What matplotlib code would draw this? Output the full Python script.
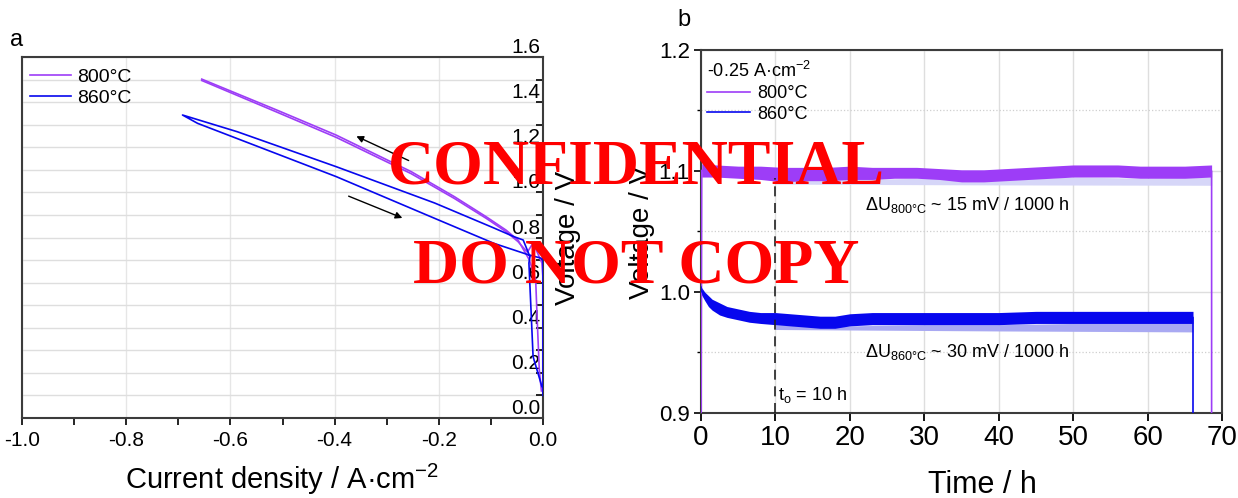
import numpy as np
import matplotlib.pyplot as plt
from matplotlib.ticker import MultipleLocator

plt.rcParams['font.family'] = ['Liberation Sans', 'DejaVu Sans']
plt.rcParams['mathtext.default'] = 'regular'

# colours
c800 = '#9D3DF7'
c860 = '#0707EE'
c800_light = '#D6D6F8'
c860_light = '#A9A9F2'

# ---- panel a: i-V curves (current density A/cm2, voltage V) ----
j800_up = [-0.003, -0.007, -0.011, -0.014, -0.026, -0.048, -0.071, -0.109, -0.170, -0.253, -0.397, -0.511, -0.655]
v800_up = [0.12, 0.21, 0.43, 0.61, 0.70, 0.789, 0.833, 0.892, 0.981, 1.092, 1.254, 1.365, 1.502]
j800_down = [-0.655, -0.511, -0.397, -0.253, -0.170, -0.109, -0.071, -0.048, -0.030, -0.019, -0.002, 0.0, 0.0]
v800_down = [1.496, 1.356, 1.244, 1.083, 0.973, 0.885, 0.826, 0.782, 0.735, 0.776, 0.687, 0.62, 0.12]

j860 = [-0.002, -0.019, -0.027, -0.025, -0.038, -0.056, -0.094, -0.208, -0.397, -0.587, -0.692,
        -0.663, -0.397, -0.208, -0.094, -0.030, -0.003, 0.0, 0.0]
v860 = [0.139, 0.272, 0.687, 0.715, 0.789, 0.804, 0.842, 0.953, 1.114, 1.269, 1.343,
        1.306, 1.070, 0.885, 0.774, 0.725, 0.708, 0.70, 0.10]

# ---- panel b: galvanostatic hold at -0.25 A/cm2 (time h, voltage envelope V) ----
t800 = [0.1, 2, 5, 8, 11, 14, 17, 20, 23, 26, 29, 32, 35, 38, 41, 44, 47, 50, 53, 56, 59, 62, 65, 68.6]
v800_hi = [1.106, 1.105, 1.104, 1.104, 1.103, 1.103, 1.103, 1.104, 1.103, 1.103, 1.103, 1.102,
           1.101, 1.101, 1.102, 1.103, 1.104, 1.105, 1.105, 1.105, 1.104, 1.104, 1.104, 1.105]
v800_lo = [1.095, 1.095, 1.094, 1.093, 1.091, 1.092, 1.092, 1.093, 1.093, 1.094, 1.094, 1.093,
           1.091, 1.091, 1.092, 1.093, 1.094, 1.095, 1.095, 1.095, 1.094, 1.094, 1.094, 1.095]
t800_fit = [10, 20, 30, 40, 50, 60, 68.6]
v800_fit_lo = [1.0892, 1.0889, 1.0887, 1.0885, 1.0884, 1.0883, 1.0882]
v800_fit_hi = [1.092, 1.093, 1.094, 1.093, 1.095, 1.094, 1.095]

t860 = [0.05, 0.5, 1, 1.5, 2.5, 3.5, 5, 6.5, 8, 10, 12, 14, 16, 18, 20, 23, 26, 30, 35, 40,
        45, 50, 55, 60, 63, 66.1]
v860_hi = [1.004, 1.000, 0.997, 0.994, 0.991, 0.988, 0.986, 0.984, 0.983, 0.983, 0.982, 0.981,
           0.980, 0.980, 0.982, 0.983, 0.983, 0.983, 0.983, 0.983, 0.984, 0.984, 0.984, 0.984,
           0.984, 0.984]
v860_lo = [0.998, 0.993, 0.988, 0.985, 0.981, 0.979, 0.977, 0.975, 0.974, 0.973, 0.972, 0.971,
           0.970, 0.970, 0.972, 0.973, 0.973, 0.973, 0.973, 0.973, 0.974, 0.974, 0.974, 0.974,
           0.974, 0.974]
t860_fit = [10, 20, 30, 40, 50, 60, 66.1]
v860_fit_lo = [0.9690, 0.9686, 0.9682, 0.9678, 0.9675, 0.9672, 0.9670]
v860_fit_hi = [0.973, 0.972, 0.973, 0.973, 0.974, 0.974, 0.974]

v_off = 0.85   # value before switching on / after switching off (below the axis)
t_o = 10

fig = plt.figure(figsize=(12.38, 4.98), dpi=100)
ax1 = fig.add_axes([0.0178, 0.1606, 0.4208, 0.7249])
ax2 = fig.add_axes([0.5662, 0.1707, 0.4209, 0.7289])

spine_col = '#3c3c3c'

# ---------------- panel a ----------------
ax1.plot(j800_up, v800_up, color=c800, lw=1.2, label='800°C', zorder=3)
ax1.plot(j800_down, v800_down, color=c800, lw=1.2, zorder=3)
ax1.plot(j860, v860, color=c860, lw=1.2, label='860°C', zorder=3)

ax1.annotate('', xy=(-0.363, 1.254), xytext=(-0.253, 1.136),
             arrowprops=dict(arrowstyle='-|>', color='k', lw=1.0, mutation_scale=10))
ax1.annotate('', xy=(-0.265, 0.882), xytext=(-0.378, 0.988),
             arrowprops=dict(arrowstyle='-|>', color='k', lw=1.0, mutation_scale=10))

ax1.set_xlim(-1.0, 0.0)
ax1.set_ylim(0.0, 1.6)
ax1.xaxis.set_minor_locator(MultipleLocator(0.1))
ax1.set_xticks(np.arange(-1.0, 0.01, 0.2))
ax1.set_xticklabels(['-1.0', '-0.8', '-0.6', '-0.4', '-0.2', '0.0'])
ax1.yaxis.tick_right()
ax1.yaxis.set_label_position('right')
yt = np.arange(0, 1.61, 0.2)
ax1.set_yticks(yt)
ax1.set_yticklabels([f'{v:.1f}' for v in yt], ha='right', va='bottom')
ax1.yaxis.set_minor_locator(MultipleLocator(0.1))
ax1.tick_params(axis='x', which='both', direction='out', length=5, width=1.2,
                labelsize=15, pad=4, colors='k')
ax1.tick_params(axis='y', which='both', direction='in', length=5, width=1.2,
                labelsize=15, pad=-2, left=False, right=True, labelright=True, labelleft=False)
ax1.grid(axis='y', which='both', color='#dedede', lw=1.0)
ax1.grid(axis='x', which='major', color='#e6e6e6', lw=1.0)
ax1.set_axisbelow(True)
for s in ax1.spines.values():
    s.set_color(spine_col)
    s.set_linewidth(1.5)
ax1.set_xlabel('Current density / A·cm$^{-2}$', fontsize=21, labelpad=9)
ax1.set_ylabel('Voltage / V', fontsize=20, labelpad=9)
ax1.legend(loc='upper left', bbox_to_anchor=(0.0, 0.991), frameon=False, fontsize=14,
           handlelength=2.1, handletextpad=0.35, labelspacing=0.2, borderaxespad=0.0)

# ---------------- panel b ----------------
ax2.fill_between(t800_fit, v800_fit_lo, v800_fit_hi, color=c800_light, lw=0, zorder=2)
ax2.fill_between(t860_fit, v860_fit_lo, v860_fit_hi, color=c860_light, lw=0, zorder=2)
ax2.fill_between(t800, v800_lo, v800_hi, color=c800, lw=0, zorder=3)
ax2.fill_between(t860, v860_lo, v860_hi, color=c860, lw=0, zorder=3)

mid800 = [(a + b) / 2 for a, b in zip(v800_lo, v800_hi)]
mid860 = [(a + b) / 2 for a, b in zip(v860_lo, v860_hi)]
ax2.plot([0] + t800 + [t800[-1]], [v_off] + mid800 + [v_off], color=c800, lw=1.2,
         label='800°C', zorder=3)
ax2.plot([0] + t860 + [t860[-1]], [v860_hi[0]] + mid860 + [v_off], color=c860, lw=1.2,
         label='860°C', zorder=3)

ax2.vlines(t_o, 0.9, 1.094, colors='#222222', linestyles=(0, (6, 4)), lw=1.2, zorder=4)
ax2.text(t_o + 0.3, 0.915, 't$_o$ = 10 h', fontsize=13, va='center', ha='left')
ax2.text(22.0, 1.072, 'ΔU$_{800°C}$ ~ 15 mV / 1000 h', fontsize=13, va='center', ha='left')
ax2.text(22.0, 0.950, 'ΔU$_{860°C}$ ~ 30 mV / 1000 h', fontsize=13, va='center', ha='left')

ax2.set_xlim(0, 70)
ax2.set_ylim(0.9, 1.2)
ax2.xaxis.set_major_locator(MultipleLocator(10))
ax2.set_yticks([0.9, 1.0, 1.1, 1.2])
ax2.yaxis.set_minor_locator(MultipleLocator(0.05))
ax2.tick_params(axis='x', which='major', direction='out', length=6, width=1.3, labelsize=20, pad=3)
ax2.tick_params(axis='y', which='major', direction='out', length=5, width=1.2, labelsize=16, pad=3)
ax2.tick_params(axis='y', which='minor', direction='out', length=3, width=1.0)
ax2.grid(which='major', color='#dedede', lw=1.0)
ax2.grid(axis='y', which='minor', color='#cfcfcf', lw=0.9, ls=':')
ax2.set_axisbelow(True)
for s in ax2.spines.values():
    s.set_color(spine_col)
    s.set_linewidth(1.5)
ax2.set_xlabel('Time / h', fontsize=22)
ax2.xaxis.set_label_coords(0.541, -0.157)
ax2.set_ylabel('Voltage / V', fontsize=20, labelpad=3)
ax2.legend(loc='upper left', bbox_to_anchor=(-0.003, 0.989), frameon=False, fontsize=13,
           handlelength=2.4, handletextpad=0.4, labelspacing=0.2, borderaxespad=0.0,
           title='-0.25 A·cm$^{-2}$', title_fontsize=13, alignment='left')

fig.text(17 / 1238, 1 - 40 / 498, 'a', fontsize=17, ha='center', va='center')
fig.text(684 / 1238, 1 - 20 / 498, 'b', fontsize=17, ha='center', va='center')

# watermark
fig.text(636.5 / 1238, 1 - 183 / 498, 'CONFIDENTIAL', color='red', fontsize=46,
         family='Liberation Serif', weight='bold', ha='center', va='baseline', zorder=10)
fig.text(636.5 / 1238, 1 - 282 / 498, 'DO NOT COPY', color='red', fontsize=46,
         family='Liberation Serif', weight='bold', ha='center', va='baseline', zorder=10)

fig.savefig('out.png', dpi=100)
